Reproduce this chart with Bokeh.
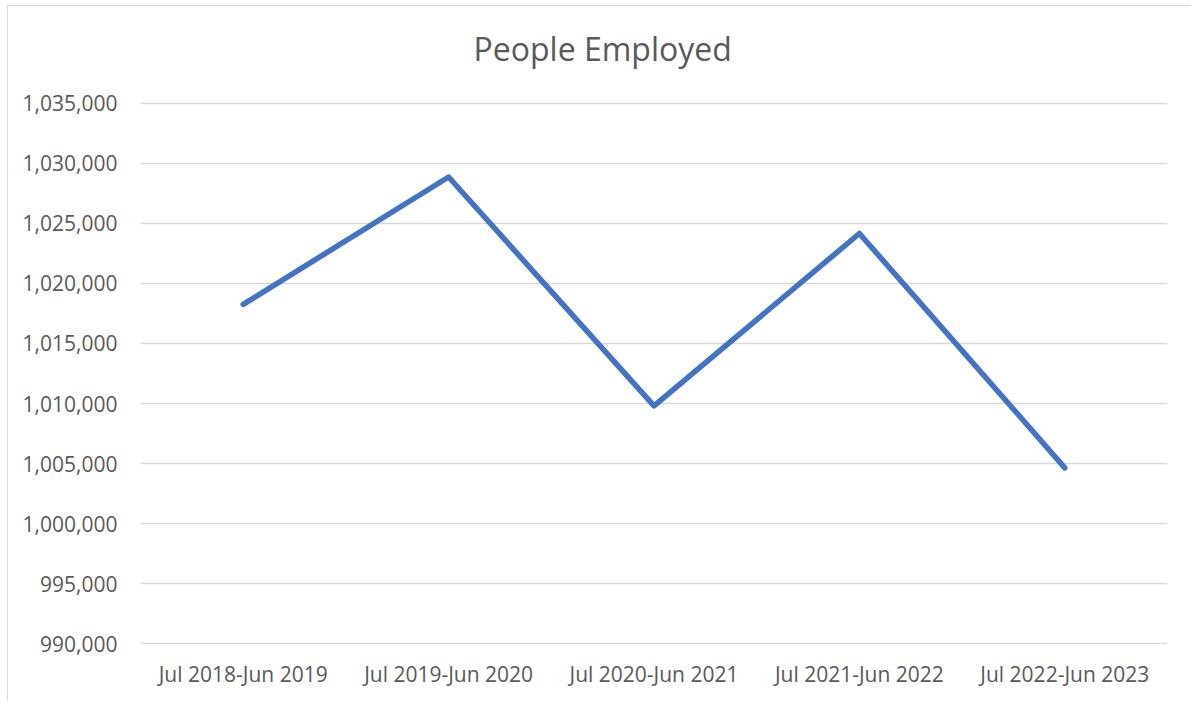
from bokeh.plotting import figure
from bokeh.models import Range1d, FactorRange, NumeralTickFormatter, FixedTicker
from bokeh.core.properties import value
from bokeh.embed import file_html
from bokeh.resources import INLINE

periods = ["Jul 2018-Jun 2019", "Jul 2019-Jun 2020", "Jul 2020-Jun 2021",
           "Jul 2021-Jun 2022", "Jul 2022-Jun 2023"]
employed = [1018250, 1028850, 1009800, 1024150, 1004650]
y_min, y_max, y_step = 990000, 1035000, 5000
y_ticks = list(range(y_min, y_max + 1, y_step))
title_text = "People Employed"

FONT = "Open Sans"
GREY = "#595959"

# layout: frame bottom 542 px tall for the value span, plus headroom for the title
span_px = 542
head_px = 96
pad = 50
units_per_px = (y_max - y_min + 2 * pad) / span_px
y_top = y_max + pad + head_px * units_per_px

p = figure(x_range=FactorRange(*periods, range_padding=0),
           y_range=Range1d(y_min - pad, y_top),
           width=1183, height=696,
           min_border_left=132, min_border_right=24,
           min_border_top=0, min_border_bottom=58,
           output_backend="svg", toolbar_location=None)
p.styles = {"margin-left": "7px", "margin-top": "5px",
            "border-left": "1px solid #d9d9d9", "border-top": "1px solid #d9d9d9"}

p.line(periods, employed, line_color="#4472C4", line_width=5.5,
       line_cap="round", line_join="round")

# chart title drawn in the headroom above the top gridline
title_y = y_max + 55 * units_per_px
p.text(x=[2.25], y=[title_y], text=[title_text], text_align="center",
       text_baseline="alphabetic", text_font=value(FONT),
       text_font_size="32px", text_color=GREY)

p.outline_line_color = None
p.xgrid.grid_line_color = None
p.ygrid.grid_line_color = "#d9d9d9"
p.ygrid.grid_line_width = 1.5

p.yaxis.ticker = FixedTicker(ticks=y_ticks)
p.yaxis.formatter = NumeralTickFormatter(format="0,0")
for ax in (p.xaxis[0], p.yaxis[0]):
    ax.axis_line_color = None
    ax.major_tick_line_color = None
    ax.minor_tick_line_color = None
    ax.major_tick_out = 0
    ax.major_tick_in = 0
    ax.minor_tick_out = 0
    ax.major_label_text_font = FONT
    ax.major_label_text_font_size = "21px"
    ax.major_label_text_color = GREY
p.yaxis.major_label_standoff = 23
p.xaxis.major_label_standoff = 15

open("out.html", "w").write(file_html(p, INLINE))
